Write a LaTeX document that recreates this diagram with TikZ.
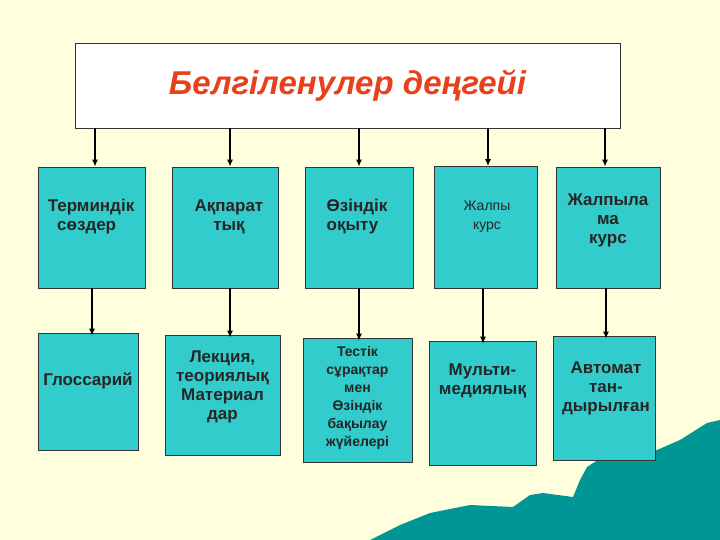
\documentclass[tikz,border=0pt]{standalone}
\usepackage{fontspec}
\usetikzlibrary{arrows.meta}
\setmainfont{Liberation Sans}
\definecolor{boxc}{RGB}{51,204,204}
\definecolor{seac}{RGB}{0,150,150}
\definecolor{bgc}{RGB}{255,255,221}
\begin{document}
\begin{tikzpicture}[x=1pt,y=-1pt,
  bx/.style={draw=black!80,fill=boxc,line width=0.8pt,align=center},
  lb/.style={align=center,font=\bfseries\fontsize{17}{19}\selectfont,text=black!85},
  ar/.style={-{Latex[length=7pt,width=6pt]},line width=1.3pt}]
\fill[bgc] (0,0) rectangle (720,540);
\useasboundingbox (0,0) rectangle (720,540);
\fill[seac] (370,540) -- (400,525) -- (430,513) -- (470,505) -- (513,507) -- (530,495) -- (543,493) -- (573,497) -- (580,480) -- (587,467) -- (613,450) -- (640,452) -- (657,450) -- (680,440) -- (707,423) -- (720,420) -- (720,540) -- cycle;
\node[draw=black!80,fill=white,minimum width=545,minimum height=85,font=\bfseries\itshape\fontsize{33}{36}\selectfont,text={rgb,255:red,232;green,64;blue,28}] (top) at (347.5,85.5) {Белгіленулер деңгейі};
\node[bx,minimum width=107,minimum height=121] (a1) at (91.5,227.5) {};
\node[lb,align=left] at (91,217) {Терминдік\\\ \ сөздер};
\node[bx,minimum width=106,minimum height=121] (a2) at (225,227.5) {};
\node[lb] at (229,217) {Ақпарат\\тық};
\node[bx,minimum width=108,minimum height=121] (a3) at (359,227.5) {};
\node[lb,align=left] at (357,217) {Өзіндік\\оқыту};
\node[bx,minimum width=103,minimum height=122] (a4) at (485.5,227.5) {};
\node[lb,font=\fontsize{14}{19}\selectfont] at (487,217) {Жалпы\\курс};
\node[bx,minimum width=104,minimum height=121] (a5) at (608,227.5) {};
\node[lb] at (608,220) {Жалпыла\\ма\\курс};
\node[bx,minimum width=100,minimum height=117] (b1) at (88,391.5) {};
\node[lb] at (88,381) {Глоссарий};
\node[bx,minimum width=115,minimum height=120] (b2) at (222.5,395) {};
\node[lb] at (222.5,387) {Лекция,\\теориялық\\Материал\\дар};
\node[bx,minimum width=109,minimum height=124] (b3) at (357.5,400) {};
\node[lb,font=\bfseries\fontsize{14}{18}\selectfont] at (357.5,398) {Тестік\\сұрақтар\\мен\\Өзіндік\\бақылау\\жүйелері};
\node[bx,minimum width=107,minimum height=124] (b4) at (482.5,403) {};
\node[lb] at (482.5,381) {Мульти-\\медиялық};
\node[bx,minimum width=102,minimum height=124] (b5) at (604,398) {};
\node[lb] at (606,388) {Автомат\\тан-\\дырылған};
\foreach \x/\n in {95/a1,230/a2,359/a3,488/a4,605/a5}
  \draw[ar] (top.south -| \x,0) -- (\n.north -| \x,0);
\foreach \x/\u/\d in {92/a1/b1,230/a2/b2,359/a3/b3,483/a4/b4,606/a5/b5}
  \draw[ar] (\u.south -| \x,0) -- ([yshift=-3pt]\d.north -| \x,0);
\end{tikzpicture}
\end{document}
